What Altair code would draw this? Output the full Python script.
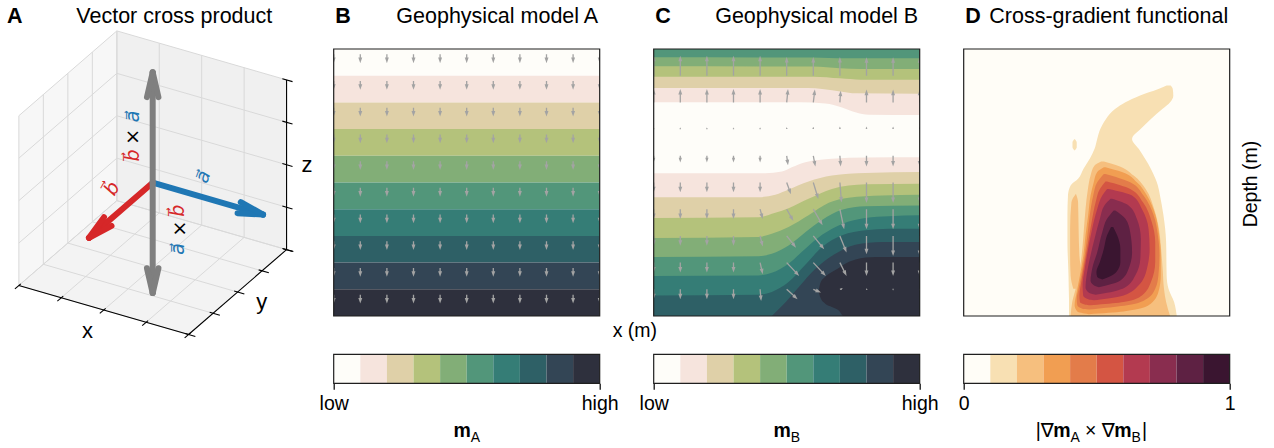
import math
import altair as alt
import pandas as pd

# ---------------- style / layout ----------------
FONT = "Liberation Sans"
MATH_FONT = "DejaVu Sans"
TITLE_SIZE = 21.5
LABEL_SIZE = 19.5
SUB_SIZE = 14

PW, PH = 266, 267          # plot area of B, C, D
CBH = 29                   # colorbar height
ROW_GAP = 38.3
COL_GAP = 44
A_W = 277                  # width of the 3D panel cell
CB_B_W = 276               # cell width of colorbar B (keeps the wider B-C gap)
TITLE_Y = -26.3

MA_COLORS = ["#fefdf9", "#f6e4dd", "#dfd0a8", "#b4c27b", "#82ae77",
             "#52967a", "#357d76", "#2e6066", "#334555", "#2e303d"]
XG_COLORS = ["#fffdf7", "#f8e0b3", "#f6bf7e", "#f19e52", "#e37c4a",
             "#d45543", "#b33a50", "#892d4f", "#5e2143", "#3a1530"]
ARROW_GREY = "#a3a3a3"
FRAME_COLOR = "#1f1f1f"
BLUE, RED, GREY = "#1f77b4", "#d62728", "#7f7f7f"

# ---------------- panel A (3D vectors) ----------------
VIEW_AZIM, VIEW_ELEV = -60.0, 30.0
A_PX_PER_UNIT = 98.0
A_ORIGIN_DX, A_ORIGIN_DY = 140.0, 133.7   # projected origin inside the cell
BOX_TICKS = [-1.0, -0.5, 0.0, 0.5, 1.0]
VEC_X = [0.0, 1.3, 0.0, 0.0]
VEC_Y = [-1.3, 0.0, 0.0, 0.0]
VEC_Z = [0.0, 0.0, 1.3, -1.3]
VEC_COLOR = [RED, BLUE, GREY, GREY]
LAB_TEXT = ["a\u20d7", "\u00d7", "b\u20d7", "b\u20d7", "\u00d7", "a\u20d7", "a\u20d7", "b\u20d7"]
LAB_COLOR = [BLUE, "black", RED, RED, "black", BLUE, BLUE, RED]
LAB_X = [0.0, 0.0, 0.0, 0.0, 0.0, 0.0, 0.385, -0.30]
LAB_Y = [-0.40, -0.40, -0.40, 0.52, 0.56, 0.52, 0.363, -0.31]
LAB_Z = [0.98, 0.74, 0.52, -0.59, -0.82, -1.04, 0.0, 0.0]
LAB_ANGLE = [270, 270, 270, 270, 270, 270, 290, 300]
AXLAB_TEXT = ["x", "y", "z"]
AXLAB_X = [0.07, 1.32, 1.24]
AXLAB_Y = [-1.45, -0.06, 1.0]
AXLAB_Z = [-1.0, -1.0, 0.07]

# ---------------- panel B (model A) ----------------
B_BOUNDS = [0, 10, 20, 30, 40, 50, 60, 70, 80, 90, 100]
B_ARROW_COLS = [0, 10, 20, 30, 40, 50, 60, 70, 80, 90, 100]
B_ARROW_ROWS = [2, 12, 22, 32, 42, 52, 62, 72, 82, 92]
B_ARROW_LEN = [3.3, 3.3, 3.3, 3.3, 3.3, 3.3, 3.3, 3.3, 3.3, 3.3]

# ---------------- panel C (model B) ----------------
# bands filled from the top down to a boundary: (level, x, depth)
C_TOP = [
    (1, [0, 55, 64.5, 70.8, 75.8, 80.9, 100], [19.95, 19.95, 20.4, 21.9, 23.7, 24.6, 24.7]),
    (2, [0, 58.3, 63.3, 70.8, 75.9, 100], [14.6, 14.6, 15.0, 16.0, 16.6, 16.8]),
    (3, [0, 60, 70, 78, 100], [10.35, 10.4, 11.0, 11.5, 11.5]),
    (4, [0, 60, 70, 78, 100], [6.5, 6.6, 7.2, 7.5, 7.5]),
    (5, [0, 60, 72, 100], [3.1, 3.2, 3.5, 3.5]),
]
# bands filled from a boundary down to the bottom
C_BOT = [
    (1, [0, 41.9, 48.2, 51.9, 57.0, 67.0, 79.6, 100], [46.5, 46.5, 45.9, 44.3, 42.4, 41.1, 40.6, 40.5]),
    (2, [0, 39.4, 45.7, 50.7, 58.2, 67.0, 79.6, 100], [55.5, 55.5, 54.6, 52.6, 49.6, 47.4, 46.4, 46.1]),
    (3, [0, 39.4, 45.7, 50.7, 58.2, 67.0, 79.6, 100], [63.3, 63.0, 61.3, 59.6, 56.1, 52.4, 50.7, 50.5]),
    (4, [0, 39.4, 44.4, 50.7, 58.2, 65.8, 73.3, 85.9, 100], [70.8, 70.4, 69.2, 66.7, 62.3, 57.6, 55.7, 54.9, 54.6]),
    (5, [0, 39.4, 44.4, 50.7, 57.0, 63.3, 70.8, 79.6, 100], [77.9, 77.6, 76.7, 73.6, 68.6, 64.0, 60.2, 58.9, 58.6]),
    (6, [0, 39.4, 44.4, 50.7, 57.0, 63.3, 70.8, 79.6, 88.4, 100], [85.0, 84.8, 83.8, 80.4, 74.8, 69.6, 65.5, 63.3, 62.6, 62.3]),
    (7, [0, 39.4, 44.4, 50.7, 57.0, 63.3, 70.8, 79.6, 88.4, 100], [92.3, 92.0, 91.0, 87.3, 80.8, 74.2, 69.8, 67.9, 67.3, 67.3]),
    (8, [44.4, 48.2, 54.5, 60.8, 68.3, 75.8, 85.9, 100], [100, 96.3, 89.2, 82.3, 76.7, 73.3, 72.3, 72.3]),
]
C_BLOB_U = [62.0, 62.6, 64.5, 67.0, 69.6, 71.4, 75.9, 83.4, 100]
C_BLOB_TOP = [90.8, 87.8, 85.3, 83.5, 82.0, 80.8, 78.8, 77.9, 77.9]
C_BLOB_BOT = [90.8, 92.9, 95.4, 96.6, 97.9, 100, 100, 100, 100]
C_ARROW_COLS = [0, 10, 20, 30, 40, 50, 60, 70, 80, 90, 100]
C_ARROW_ROWS = [10, 20, 30, 40, 50, 60, 70, 80, 90]
C_ARROW_DU = [
    [0, 0, 0, 0, 0, 0, 0, 0, 0, 0, 0],
    [0, 0, 0, 0, 0, 0.5, 0.6, 0.3, 0, 0, 0],
    [0, 0, 0, 0, 0, 0, 0, 0, 0, 0, 0],
    [0, 0, 0, 0, 0, 0.5, 0.8, 0.3, 0, 0, 0],
    [0, 0, 0, 0, 0, 1.6, 1.9, 0.6, 0, 0, 0],
    [0, 0, 0, 0, 1.0, 2.5, 3.5, 1.6, 0, 0, 0],
    [0, 0, 0, 0, 1.0, 3.5, 4.1, 2.5, 0, 0, 0],
    [0, 0, 0, 0, 1.0, 4.7, 4.7, 2.5, 0, 0, 0],
    [0, 0, 0, 0, 0.4, 4.1, 2.9, 1.2, 0.2, 0, 0],
]
C_ARROW_DD = [
    [-7.5, -7.5, -7.5, -7.5, -7.5, -7.0, -7.0, -7.0, -6.9, -6.9, -6.9],
    [-5.0, -5.0, -5.0, -5.0, -5.0, -5.0, -4.8, -4.4, -4.8, -4.8, -4.8],
    [-0.4, -0.4, -0.4, -0.4, -0.4, -0.6, -0.8, -0.9, -0.9, -0.9, -0.9],
    [2.5, 2.5, 2.5, 2.5, 2.5, 3.5, 4.0, 4.0, 4.0, 4.0, 4.0],
    [3.7, 3.7, 3.7, 3.7, 3.7, 4.4, 6.2, 7.5, 7.7, 7.7, 7.7],
    [3.7, 3.7, 3.7, 3.7, 3.7, 4.4, 6.0, 7.5, 7.5, 7.5, 7.5],
    [3.7, 3.7, 3.7, 3.7, 4.0, 4.4, 5.0, 6.2, 6.9, 7.5, 7.5],
    [3.7, 3.7, 3.7, 3.7, 4.4, 5.0, 5.0, 5.0, 5.0, 5.0, 5.0],
    [3.7, 3.7, 3.7, 3.7, 4.4, 3.7, 1.2, -0.3, 0.0, 0.2, 0.2],
]

# ---------------- panel D (cross-gradient) ----------------
# closed regions: (level, depth, left x, right x)
D_REGIONS = [
    (1, [13.7, 15.0, 17.5, 19.95, 22.4, 26.2, 29.9, 33.7, 37.4, 41.1, 44.9, 48.6, 51.1, 54.9, 62.3, 72.3, 84.8, 89.8, 94.8, 100],
        [76.3, 73.2, 66.1, 60.8, 57.0, 53.5, 51.4, 50.2, 49.2, 47.4, 45.0, 43.0, 40.2, 39.2, 39.0, 39.0, 39.4, 39.5, 39.6, 39.6],
        [77.8, 78.6, 78.8, 77.6, 74.8, 70.4, 66.6, 63.3, 65.8, 68.2, 70.4, 72.1, 73.0, 73.8, 75.1, 76.1, 76.3, 77.0, 79.1, 80.1]),
    (1, [33.7, 35.0, 36.8, 38.0], [41.7, 40.9, 40.9, 41.7], [41.7, 42.5, 42.5, 41.7]),
    (2, [42.1, 43.6, 47.4, 52.4, 59.9, 67.3, 74.8, 82.3, 89.8, 94.8, 100],
        [51.7, 49.2, 47.7, 46.7, 45.8, 45.2, 44.6, 43.7, 42.1, 40.8, 40.2],
        [52.7, 57.7, 63.9, 68.4, 71.6, 73.4, 74.2, 74.8, 75.3, 76.1, 77.6]),
    (2, [54.2, 57.4, 67.3, 77.3, 84.8, 89.8], [42.2, 40.5, 40.0, 40.0, 40.2, 41.2], [42.2, 43.0, 43.2, 43.5, 44.2, 44.2]),
    (3, [44.3, 46.1, 49.9, 54.9, 62.3, 69.8, 77.3, 84.8, 91.0, 96.0, 98.3, 99.3],
        [52.7, 50.2, 48.9, 47.7, 46.8, 45.8, 45.0, 43.7, 42.5, 41.7, 42.7, 47.0],
        [53.3, 59.5, 65.1, 68.9, 72.1, 73.5, 74.1, 74.1, 73.2, 69.5, 60.1, 47.0]),
    (4, [46.8, 49.9, 54.9, 62.3, 69.8, 77.3, 84.8, 89.8, 93.5, 96.0, 97.3, 97.6],
        [52.7, 50.2, 48.7, 47.4, 46.5, 45.5, 44.2, 43.2, 42.5, 42.7, 44.6, 47.1],
        [53.3, 62.6, 67.6, 71.4, 73.0, 73.6, 73.2, 72.0, 68.9, 61.4, 50.2, 47.1]),
    (5, [49.6, 52.4, 57.4, 64.8, 72.3, 79.8, 87.3, 92.3, 94.8, 95.8, 96.0],
        [53.3, 51.2, 49.6, 48.1, 46.8, 45.5, 44.2, 43.5, 43.7, 45.8, 47.7],
        [53.9, 62.6, 67.4, 70.7, 72.0, 72.0, 70.4, 67.0, 60.1, 50.2, 47.7]),
    (6, [52.4, 54.9, 59.9, 67.3, 74.8, 82.3, 88.5, 92.3, 93.8, 94.1],
        [53.9, 52.1, 50.2, 48.3, 46.8, 45.5, 44.7, 44.9, 47.1, 48.9],
        [54.5, 63.3, 67.0, 69.5, 69.9, 68.9, 65.8, 60.1, 51.4, 48.9]),
    (7, [56.1, 58.6, 63.6, 71.1, 78.6, 84.8, 89.2, 91.3, 92.0],
        [55.2, 52.9, 51.2, 49.2, 47.4, 46.2, 45.8, 47.1, 49.6],
        [55.8, 62.0, 65.1, 66.6, 66.4, 64.5, 60.8, 53.9, 49.6]),
    (8, [60.5, 63.6, 68.6, 76.1, 82.3, 86.7, 88.5, 89.2],
        [56.4, 53.9, 52.1, 50.2, 48.3, 47.7, 48.9, 50.8],
        [57.0, 60.8, 62.6, 63.3, 62.0, 58.9, 53.9, 50.8]),
    (9, [66.7, 69.8, 74.8, 79.8, 83.5, 85.4, 86.3],
        [55.4, 53.9, 52.7, 51.2, 49.9, 50.2, 52.1],
        [56.2, 57.7, 58.9, 58.9, 57.4, 54.5, 52.1]),
]

# =====================================================================
XS = alt.Scale(domain=[0, 100], nice=False, zero=False)
YS = alt.Scale(domain=[0, 100], nice=False, zero=False, reverse=True)
ONE = [{}]


def text_mark(text, x, y, size, color="black", weight="normal", align="left",
              baseline="alphabetic", angle=0, font=FONT):
    return alt.Chart(alt.Data(values=[{"t": text}])).mark_text(
        fontSize=size, font=font, fontWeight=weight, color=color,
        align=align, baseline=baseline, angle=angle
    ).encode(text="t:N", x=alt.value(x), y=alt.value(y))


def frame(w, h):
    return alt.Chart(alt.Data(values=ONE)).mark_rect(
        fill="transparent", stroke=FRAME_COLOR, strokeWidth=1.2
    ).encode(x=alt.value(0), x2=alt.value(w), y=alt.value(0), y2=alt.value(h))


def background(w, h, color):
    return alt.Chart(alt.Data(values=ONE)).mark_rect(fill=color).encode(
        x=alt.value(0), x2=alt.value(w), y=alt.value(0), y2=alt.value(h))


def panel_titles(letter, title, w):
    return [text_mark(letter, 1.5, TITLE_Y, TITLE_SIZE, weight="bold"),
            text_mark(title, w - 1.5, TITLE_Y, TITLE_SIZE, align="right")]


HEAD_PATH = "M0,-1L0.62,0.75L-0.62,0.75Z"
HEAD_SIZE = 40
HEAD_OFF = (math.sqrt(HEAD_SIZE) / 2) / (PW / 100)


def arrow_df(us, ds, dus, dds):
    rows = []
    for u, d, du, dd in zip(us, ds, dus, dds):
        L = math.hypot(du, dd)
        f = min(1.0, L / 3.0)
        off = HEAD_OFF * f
        if L > 0:
            k = 1 - off / L
            ang = math.degrees(math.atan2(du, -dd)) % 360
        else:
            k, ang = 0.0, 0.0
        rows.append(dict(u=u, d=d, uc=u + du * k, dc=d + dd * k, ang=ang,
                         hs=max(HEAD_SIZE * f * f, 5)))
    return pd.DataFrame(rows)


def arrow_layers(df):
    shaft = alt.Chart(df).mark_rule(color=ARROW_GREY, strokeWidth=1.3, clip=True).encode(
        x=alt.X("u:Q", scale=XS, axis=None), y=alt.Y("d:Q", scale=YS, axis=None),
        x2="uc:Q", y2="dc:Q")
    head = alt.Chart(df).mark_point(shape=HEAD_PATH, filled=True, color=ARROW_GREY,
                                    opacity=1, strokeWidth=0, clip=True).encode(
        x=alt.X("uc:Q", scale=XS, axis=None), y=alt.Y("dc:Q", scale=YS, axis=None),
        angle=alt.Angle("ang:Q", scale=None), size=alt.Size("hs:Q", scale=None))
    return [shaft, head]


# ---------------- panel A ----------------
def project(x, y, z):
    a = math.radians(VIEW_AZIM)
    e = math.radians(VIEW_ELEV)
    u = -math.sin(a) * x + math.cos(a) * y
    v = -math.sin(e) * math.cos(a) * x - math.sin(e) * math.sin(a) * y + math.cos(e) * z
    return u, v


A_UMIN = -A_ORIGIN_DX / A_PX_PER_UNIT
A_UMAX = (A_W - A_ORIGIN_DX) / A_PX_PER_UNIT
A_VMAX = A_ORIGIN_DY / A_PX_PER_UNIT
A_VMIN = (A_ORIGIN_DY - PH) / A_PX_PER_UNIT
AU = alt.Scale(domain=[A_UMIN, A_UMAX], nice=False, zero=False)
AV = alt.Scale(domain=[A_VMIN, A_VMAX], nice=False, zero=False)

lo_, hi_ = BOX_TICKS[0], BOX_TICKS[-1]


def pane_rows(verts):
    pts = [project(*p) for p in verts]
    us = sorted(set(round(p[0], 9) for p in pts))
    rows = []
    n = len(pts)
    for u in us:
        vs = []
        for i in range(n):
            (u1, v1), (u2, v2) = pts[i], pts[(i + 1) % n]
            if abs(u1 - u2) < 1e-9:
                if abs(u1 - u) < 1e-6:
                    vs += [v1, v2]
            elif min(u1, u2) - 1e-6 <= u <= max(u1, u2) + 1e-6:
                t = (u - u1) / (u2 - u1)
                vs.append(v1 + t * (v2 - v1))
        rows.append(dict(u=u, lo=min(vs), hi=max(vs)))
    return pd.DataFrame(rows)


PANES = [
    ([(lo_, lo_, lo_), (lo_, hi_, lo_), (lo_, hi_, hi_), (lo_, lo_, hi_)], "#f7f7f7"),
    ([(lo_, hi_, lo_), (hi_, hi_, lo_), (hi_, hi_, hi_), (lo_, hi_, hi_)], "#f0f0f0"),
    ([(lo_, lo_, lo_), (hi_, lo_, lo_), (hi_, hi_, lo_), (lo_, hi_, lo_)], "#f3f3f3"),
]


def seg_frame(segs):
    rows = []
    for p1, p2, col, w in segs:
        u1, v1 = project(*p1)
        u2, v2 = project(*p2)
        rows.append(dict(u1=u1, v1=v1, u2=u2, v2=v2, col=col, w=w))
    return pd.DataFrame(rows)


grid_segs = []
for t in BOX_TICKS:
    grid_segs += [((t, lo_, lo_), (t, hi_, lo_), "#d9d9d9", 1.0),
                  ((t, hi_, lo_), (t, hi_, hi_), "#d9d9d9", 1.0),
                  ((lo_, t, lo_), (hi_, t, lo_), "#d9d9d9", 1.0),
                  ((lo_, t, lo_), (lo_, t, hi_), "#d9d9d9", 1.0),
                  ((lo_, lo_, t), (lo_, hi_, t), "#d9d9d9", 1.0),
                  ((lo_, hi_, t), (hi_, hi_, t), "#d9d9d9", 1.0)]
axis_segs = [((lo_, lo_, lo_), (hi_, lo_, lo_), "black", 1.1),
             ((hi_, lo_, lo_), (hi_, hi_, lo_), "black", 1.1),
             ((hi_, hi_, lo_), (hi_, hi_, hi_), "black", 1.1)]
for t in BOX_TICKS:
    axis_segs += [((t, lo_ + 0.04, lo_), (t, lo_ - 0.08, lo_), "black", 1.1),
                  ((hi_ - 0.04, t, lo_), (hi_ + 0.08, t, lo_), "black", 1.1),
                  ((hi_ - 0.05, hi_, t), (hi_ + 0.07, hi_, t), "black", 1.1)]

HEAD_LEN_A = 0.26
HEAD_ANG_A = 13.0
vec_segs = []
for vx, vy, vz, col in zip(VEC_X, VEC_Y, VEC_Z, VEC_COLOR):
    u0, v0 = project(0, 0, 0)
    u1, v1 = project(vx, vy, vz)
    L = math.hypot(u1 - u0, v1 - v0)
    ex, ey = (u1 - u0) / L, (v1 - v0) / L
    vec_segs.append((u0, v0, u1, v1, col))
    for sgn in (1, -1):
        th = math.radians(HEAD_ANG_A) * sgn
        bx = -ex * math.cos(th) + ey * math.sin(th)
        by = -ex * math.sin(th) - ey * math.cos(th)
        vec_segs.append((u1, v1, u1 + HEAD_LEN_A * bx, v1 + HEAD_LEN_A * by, col))
vec_df = pd.DataFrame(vec_segs, columns=["u1", "v1", "u2", "v2", "col"])


def rule_layer(df, cap="butt"):
    return alt.Chart(df).mark_rule(strokeCap=cap).encode(
        x=alt.X("u1:Q", scale=AU, axis=None), y=alt.Y("v1:Q", scale=AV, axis=None),
        x2="u2:Q", y2="v2:Q", color=alt.Color("col:N", scale=None),
        strokeWidth=alt.StrokeWidth("w:Q", scale=None))


a_layers = []
for verts, col in PANES:
    a_layers.append(alt.Chart(pane_rows(verts)).mark_area(color=col, interpolate="linear").encode(
        x=alt.X("u:Q", scale=AU, axis=None),
        y=alt.Y("lo:Q", scale=AV, axis=None, stack=None), y2="hi:Q"))
a_layers.append(rule_layer(seg_frame(grid_segs)))
a_layers.append(rule_layer(seg_frame(axis_segs)))
a_layers.append(alt.Chart(vec_df).mark_rule(strokeCap="round", strokeWidth=6).encode(
    x=alt.X("u1:Q", scale=AU, axis=None), y=alt.Y("v1:Q", scale=AV, axis=None),
    x2="u2:Q", y2="v2:Q", color=alt.Color("col:N", scale=None)))

lab_rows = []
for t, c, x, y, z, an in zip(LAB_TEXT, LAB_COLOR, LAB_X, LAB_Y, LAB_Z, LAB_ANGLE):
    u, v = project(x, y, z)
    lab_rows.append(dict(t=t, c=c, u=u, v=v, an=an))
a_layers.append(alt.Chart(pd.DataFrame(lab_rows)).mark_text(
    font=MATH_FONT, fontSize=19, fontStyle="italic", align="center", baseline="middle").encode(
    x=alt.X("u:Q", scale=AU, axis=None), y=alt.Y("v:Q", scale=AV, axis=None),
    text="t:N", color=alt.Color("c:N", scale=None), angle=alt.Angle("an:Q", scale=None)))
ax_rows = []
for t, x, y, z in zip(AXLAB_TEXT, AXLAB_X, AXLAB_Y, AXLAB_Z):
    u, v = project(x, y, z)
    ax_rows.append(dict(t=t, u=u, v=v))
a_layers.append(alt.Chart(pd.DataFrame(ax_rows)).mark_text(
    font=FONT, fontSize=22, align="center", baseline="middle", color="black").encode(
    x=alt.X("u:Q", scale=AU, axis=None), y=alt.Y("v:Q", scale=AV, axis=None), text="t:N"))
a_layers.append(text_mark("A", -5.8, TITLE_Y, TITLE_SIZE, weight="bold"))
a_layers.append(text_mark("Vector cross product", 259.5, TITLE_Y, TITLE_SIZE, align="right"))
panel_a = alt.layer(*a_layers).properties(width=A_W, height=PH)

# ---------------- panel B ----------------
b_df = pd.DataFrame({"d0": B_BOUNDS[:-1], "d1": B_BOUNDS[1:], "col": MA_COLORS})
b_bands = alt.Chart(b_df).mark_rect().encode(
    x=alt.value(0), x2=alt.value(PW),
    y=alt.Y("d0:Q", scale=YS, axis=None), y2="d1:Q",
    color=alt.Color("col:N", scale=None))
bu, bd, bdu, bdd = [], [], [], []
for r, ln in zip(B_ARROW_ROWS, B_ARROW_LEN):
    for c in B_ARROW_COLS:
        bu.append(c); bd.append(r); bdu.append(0.0); bdd.append(ln)
panel_b = alt.layer(
    b_bands, *arrow_layers(arrow_df(bu, bd, bdu, bdd)), frame(PW, PH),
    *panel_titles("B", "Geophysical model A", PW),
    text_mark("x (m)", 301.2, 288.2, LABEL_SIZE, align="center"),
).properties(width=PW, height=PH)

# ---------------- panel C ----------------
c_layers = [background(PW, PH, MA_COLORS[0])]
for lvl, us, ds in C_TOP:
    df = pd.DataFrame({"u": us, "d0": [0.0] * len(us), "d1": ds})
    c_layers.append(alt.Chart(df).mark_area(color=MA_COLORS[lvl], interpolate="monotone", clip=True).encode(
        x=alt.X("u:Q", scale=XS, axis=None), y=alt.Y("d0:Q", scale=YS, axis=None, stack=None), y2="d1:Q"))
for lvl, us, ds in C_BOT:
    df = pd.DataFrame({"u": us, "d0": ds, "d1": [100.0] * len(us)})
    c_layers.append(alt.Chart(df).mark_area(color=MA_COLORS[lvl], interpolate="monotone", clip=True).encode(
        x=alt.X("u:Q", scale=XS, axis=None), y=alt.Y("d0:Q", scale=YS, axis=None, stack=None), y2="d1:Q"))
blob_df = pd.DataFrame({"u": C_BLOB_U, "d0": C_BLOB_TOP, "d1": C_BLOB_BOT})
c_layers.append(alt.Chart(blob_df).mark_area(color=MA_COLORS[9], interpolate="monotone", clip=True).encode(
    x=alt.X("u:Q", scale=XS, axis=None), y=alt.Y("d0:Q", scale=YS, axis=None, stack=None), y2="d1:Q"))
cu, cd, cdu, cdd = [], [], [], []
for r, rdu, rdd in zip(C_ARROW_ROWS, C_ARROW_DU, C_ARROW_DD):
    for c, du, dd in zip(C_ARROW_COLS, rdu, rdd):
        cu.append(c); cd.append(r); cdu.append(du); cdd.append(dd)
c_layers += arrow_layers(arrow_df(cu, cd, cdu, cdd))
c_layers.append(frame(PW, PH))
c_layers += panel_titles("C", "Geophysical model B", PW)
panel_c = alt.layer(*c_layers).properties(width=PW, height=PH)

# ---------------- panel D ----------------
d_layers = [background(PW, PH, XG_COLORS[0])]
for lvl, ds, ls, rs in D_REGIONS:
    df = pd.DataFrame({"d": ds, "l": ls, "r": rs})
    d_layers.append(alt.Chart(df).mark_area(color=XG_COLORS[lvl], orient="horizontal",
                                            interpolate="monotone", clip=True).encode(
        y=alt.Y("d:Q", scale=YS, axis=None),
        x=alt.X("l:Q", scale=XS, axis=None, stack=None), x2="r:Q"))
d_layers.append(frame(PW, PH))
d_layers += panel_titles("D", "Cross-gradient functional", PW)
d_layers.append(text_mark("Depth (m)", 287.5, 135, LABEL_SIZE, align="center",
                          baseline="middle", angle=270))
panel_d = alt.layer(*d_layers).properties(width=PW, height=PH)


# ---------------- colorbars ----------------
def colorbar(colors, lo_lab, hi_lab, width, pieces):
    n = len(colors)
    df = pd.DataFrame({"i0": list(range(n)), "i1": list(range(1, n + 1)), "col": colors})
    bars = alt.Chart(df).mark_rect().encode(
        x=alt.X("i0:Q", scale=alt.Scale(domain=[0, n * width / PW], nice=False, zero=False),
                axis=alt.Axis(values=[0, n],
                              labelExpr=f"datum.value == 0 ? '{lo_lab}' : '{hi_lab}'",
                              tickSize=6, tickColor="black", tickWidth=1.2, domain=False,
                              grid=False, labelFont=FONT, labelFontSize=LABEL_SIZE,
                              labelColor="black", labelPadding=5, labelFlush=False,
                              labelOverlap=False, title=None)),
        x2="i1:Q", y=alt.value(0), y2=alt.value(CBH),
        color=alt.Color("col:N", scale=None))
    return alt.layer(bars, frame(PW, CBH), *pieces).properties(width=width, height=CBH)


def m_label(sub, x0):
    return [text_mark("m", x0, 83.2, LABEL_SIZE, weight="bold"),
            text_mark(sub, x0 + 17.3, 88.2, SUB_SIZE)]


cb_b = colorbar(MA_COLORS, "low", "high", CB_B_W, m_label("A", 119.7))
cb_c = colorbar(MA_COLORS, "low", "high", PW, m_label("B", 119.7))
d_pieces = [
    text_mark("|\u2207", 72, 83.2, LABEL_SIZE, font=f"{FONT}, {MATH_FONT}"),
    text_mark("m", 89.6, 83.2, LABEL_SIZE, weight="bold"),
    text_mark("A", 106.9, 88.2, SUB_SIZE),
    text_mark("\u00d7 \u2207", 121.2, 83.2, LABEL_SIZE, font=f"{FONT}, {MATH_FONT}"),
    text_mark("m", 150.6, 83.2, LABEL_SIZE, weight="bold"),
    text_mark("B", 167.9, 88.2, SUB_SIZE),
    text_mark("|", 178.2, 83.2, LABEL_SIZE),
]
cb_d = colorbar(XG_COLORS, "0", "1", PW, d_pieces)

spacer = alt.Chart(alt.Data(values=ONE)).mark_point(opacity=0).encode(
    x=alt.value(0), y=alt.value(0)).properties(width=1, height=1)

chart = alt.concat(
    panel_a, panel_b, panel_c, panel_d, spacer, cb_b, cb_c, cb_d,
    columns=4, spacing={"row": ROW_GAP, "column": COL_GAP}, bounds="flush", align="each",
).properties(
    padding={"left": 6.7, "top": 5, "right": 8, "bottom": 4}, background="white"
).configure_view(strokeWidth=0)

chart.save("out.html", embed_options={"renderer": "svg", "actions": False})
